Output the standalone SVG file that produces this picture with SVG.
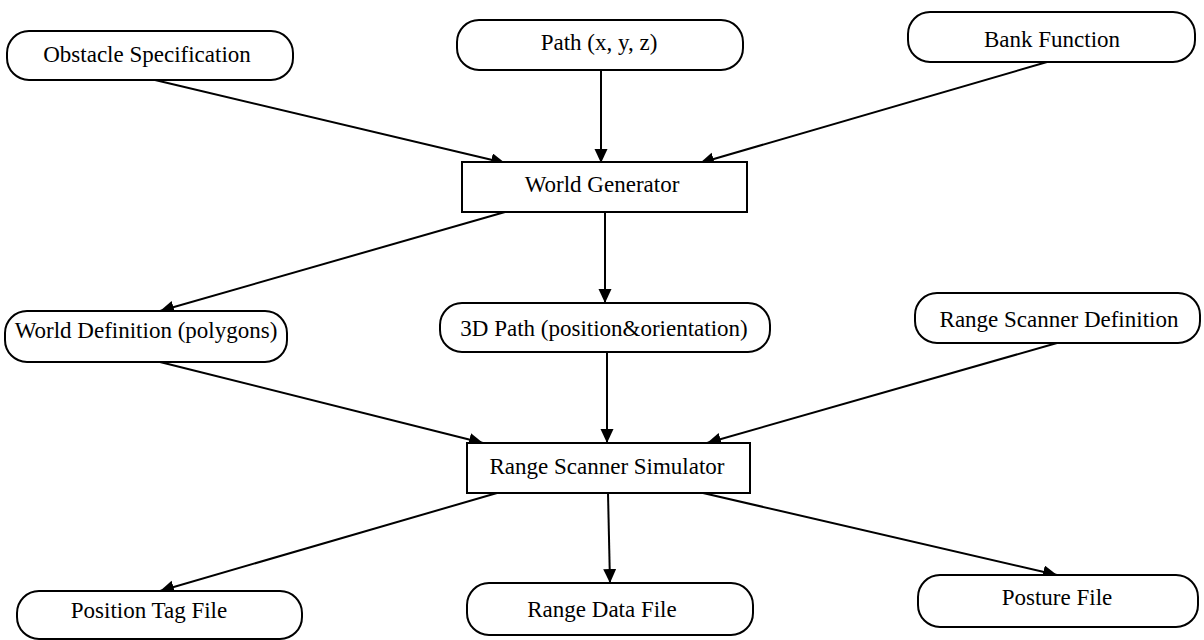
<svg xmlns="http://www.w3.org/2000/svg" width="1204" height="640" viewBox="0 0 1204 640">
<style>
.n{fill:#fff;stroke:#000;stroke-width:2}
.t{font-family:"Liberation Serif","Times New Roman",serif;font-size:23px;fill:#000;text-anchor:middle}
.c{stroke:#000;stroke-width:2;fill:none;marker-end:url(#ah)}
</style>
<defs>
<marker id="ah" markerUnits="userSpaceOnUse" markerWidth="16" markerHeight="14" refX="14" refY="6.5" orient="auto">
<path d="M0,0 L14,6.5 L0,13 z" fill="#000"/>
</marker>
</defs>
<rect width="1204" height="640" fill="#fff"/>
<g id="connectors">
<line class="c" x1="155" y1="80" x2="505" y2="163"/>
<line class="c" x1="601" y1="70" x2="601" y2="163"/>
<line class="c" x1="1047" y1="62" x2="700" y2="163"/>
<line class="c" x1="505" y1="212" x2="160" y2="311"/>
<line class="c" x1="605" y1="212" x2="605" y2="303"/>
<line class="c" x1="160" y1="362" x2="483" y2="443"/>
<line class="c" x1="607" y1="352" x2="607" y2="443"/>
<line class="c" x1="1057" y1="343" x2="707" y2="443"/>
<line class="c" x1="497" y1="493" x2="160" y2="591"/>
<line class="c" x1="608" y1="493" x2="610" y2="583"/>
<line class="c" x1="703" y1="493" x2="1057" y2="575"/>
</g>
<g id="obstacle"><rect class="n" x="7" y="31" width="286" height="49" rx="22"/><text class="t" x="147" y="62">Obstacle Specification</text></g>
<g id="path"><rect class="n" x="457" y="20" width="286" height="50" rx="22"/><text class="t" x="599" y="50">Path (x, y, z)</text></g>
<g id="bank"><rect class="n" x="908" y="12" width="287" height="50" rx="22"/><text class="t" x="1052" y="47">Bank Function</text></g>
<g id="worldgen"><rect class="n" x="462" y="162" width="285" height="50"/><text class="t" x="602" y="192">World Generator</text></g>
<g id="worlddef"><rect class="n" x="5" y="311" width="282" height="51" rx="22"/><text class="t" x="146" y="338">World Definition (polygons)</text></g>
<g id="path3d"><rect class="n" x="440" y="303" width="330" height="49" rx="22"/><text class="t" x="604" y="336">3D Path (position&amp;orientation)</text></g>
<g id="scannerdef"><rect class="n" x="915" y="293" width="285" height="50" rx="22"/><text class="t" x="1059" y="327">Range Scanner Definition</text></g>
<g id="simulator"><rect class="n" x="467" y="443" width="283" height="50"/><text class="t" x="607" y="474">Range Scanner Simulator</text></g>
<g id="postag"><rect class="n" x="17" y="591" width="285" height="48" rx="22"/><text class="t" x="149" y="618">Position Tag File</text></g>
<g id="rangedata"><rect class="n" x="467" y="583" width="286" height="52" rx="22"/><text class="t" x="602" y="617">Range Data File</text></g>
<g id="posture"><rect class="n" x="918" y="575" width="280" height="52" rx="22"/><text class="t" x="1057" y="605">Posture File</text></g>
</svg>
